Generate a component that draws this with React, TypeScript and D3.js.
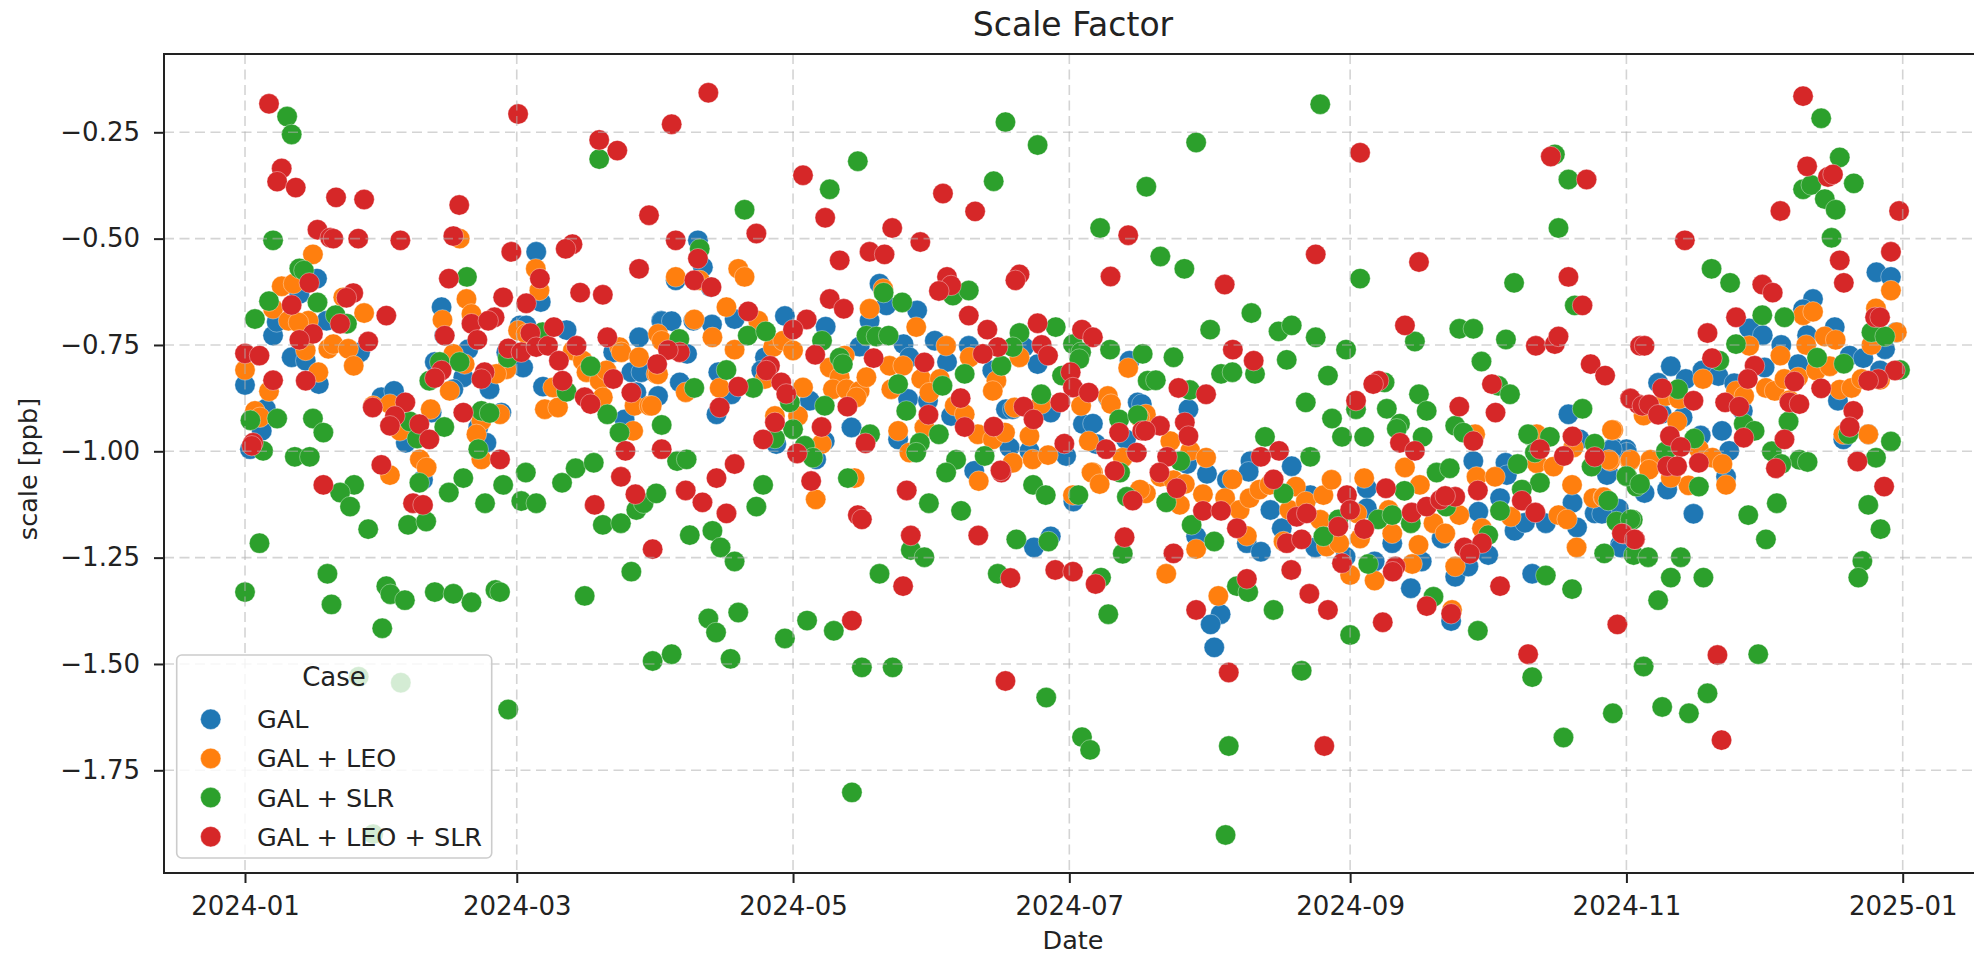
import React, { useEffect, useRef } from "react";
import * as d3 from "d3";

// [day of 2024, scale in ppb]
const gal: [number, number][] = [
  [0,-0.844],[6.2,-0.728],[10.3,-0.779],[13.4,-0.787],[12,-0.63],[15.9,-0.594],[7,-0.696],[18,-0.693],[25.4,-0.767],[16.3,-0.842],
  [1.1,-0.995],[3.7,-0.952],[4.6,-0.9],[43.4,-0.661],[44,-0.728],[49.3,-0.76],[41.9,-0.79],[48.2,-0.826],[46,-0.854],[54,-0.854],
  [64.3,-0.531],[65.3,-0.649],[60.7,-0.704],[62.1,-0.704],[57.7,-0.767],[61.4,-0.803],[71,-0.715],[65.8,-0.848],[81.3,-0.767],[87,-0.732],
  [85.3,-0.814],[87.5,-0.814],[91.9,-0.693],[86.4,-0.861],[91.2,-0.87],[83.8,-0.925],[30.1,-0.873],[32.9,-0.858],[41.2,-0.909],[35.5,-0.98],
  [51.5,-0.944],[53.3,-0.98],[56.6,-0.909],[92,-0.694],[94.2,-0.694],[100,-0.504],[101.1,-0.567],[95.1,-0.598],[102.8,-0.614],[97.6,-0.771],
  [103.1,-0.702],[108.1,-0.689],[99,-0.693],[119.2,-0.682],[128.2,-0.707],[114.8,-0.779],[104.5,-0.814],[96,-0.838],[107.4,-0.866],[104.1,-0.913],
  [114,-0.81],[124.7,-0.881],[140.1,-0.606],[137.9,-0.693],[141.6,-0.657],[148.4,-0.669],[135.7,-0.754],[145.4,-0.748],[152.3,-0.74],[159.8,-0.752],
  [155,-0.79],[146.7,-0.779],[133.9,-0.944],[144.2,-0.972],[146.4,-0.877],[150.8,-0.881],[155.9,-0.917],[165,-0.81],[168,-0.901],[169.5,-0.901],
  [175,-0.795],[177.9,-0.909],[172,-0.755],[185,-0.936],[187.2,-0.935],[195.3,-0.787],[190.5,-0.873],[197.1,-0.885],[194.5,-0.972],[187.9,-0.983],
  [181.3,-1.011],[168.8,-0.991],[173.2,-0.999],[161,-1.046],[117.3,-0.983],[128,-0.976],[126.1,-1.019],[39.3,-1.067],[182.9,-1.118],[177.9,-1.2],
  [174.2,-1.226],[208.3,-0.901],[198,-0.889],[199.9,-0.94],[292.2,-0.913],[271.2,-1.023],[278.3,-1.027],[222,-1.023],[231.1,-1.035],[294.7,-0.972],
  [302.1,-0.991],[305,-0.995],[212.4,-1.053],[208,-1.03],[216.8,-1.067],[221.6,-1.048],[226.4,-1.138],[228.9,-1.181],[210,-1.2],[221.2,-1.216],
  [224.3,-1.236],[236.3,-1.226],[235.2,-1.103],[215.4,-1.383],[213.2,-1.407],[214,-1.461],[257.4,-1.322],[249.4,-1.259],[247.7,-1.087],[247.7,-1.134],
  [253.3,-1.216],[259.8,-1.259],[267.2,-1.295],[266.3,-1.399],[264.2,-1.205],[270.1,-1.271],[274.5,-1.244],[272.3,-1.142],[277.1,-1.11],[280.3,-1.187],
  [282.6,-1.168],[284.2,-1.288],[287.2,-1.169],[294.1,-1.179],[293.1,-1.121],[298,-1.146],[301,-1.052],[303.6,-1.22],[243,-1.248],[278.6,-1.056],
  [314.8,-0.8],[312,-0.839],[318.1,-0.83],[321.8,-0.81],[325.3,-0.823],[317.4,-0.92],[312.8,-0.912],[332.1,-0.711],[335.1,-0.727],[339.2,-0.75],
  [335.5,-0.803],[342.9,-0.795],[346.2,-0.642],[344,-0.666],[344.9,-0.727],[351,-0.708],[354.3,-0.775],[357.3,-0.781],[362.1,-0.76],[360.2,-0.579],
  [363.4,-0.59],[364.5,-0.72],[361,-0.81],[351.7,-0.881],[330.7,-0.905],[328.8,-0.84],[326.1,-0.952],[327.7,-0.999],[321.4,-0.963],[352.9,-0.972],
  [358.4,-0.96],[305.1,-1.003],[301.8,-0.995],[327,-1.06],[319.8,-1.147],[314,-1.09],[309,-1.098],[303.3,-1.135],[299.6,-1.147],[303.7,-1.226],[300.7,-1.056],
];

const galLeo: [number, number][] = [
  [0,-0.809],[2.2,-0.905],[3.3,-0.92],[5.3,-0.859],[8.1,-0.612],[10.7,-0.606],[15,-0.537],[6.2,-0.665],[9.6,-0.693],[14,-0.693],
  [11.8,-0.697],[13.4,-0.763],[16.2,-0.814],[18.4,-0.759],[19.5,-0.748],[22.8,-0.759],[24,-0.799],[26.3,-0.675],[21.7,-0.638],[47.4,-0.5],
  [43.6,-0.691],[46,-0.771],[48.9,-0.642],[50,-0.677],[45.2,-0.858],[48.5,-0.795],[57.7,-0.807],[55.5,-0.818],[56.3,-0.913],[52.2,-0.928],
  [51.1,-0.96],[52.2,-1.019],[28.3,-0.893],[32,-0.889],[34.2,-0.952],[41,-0.901],[38.6,-1.019],[40.1,-1.038],[32,-1.056],[64.2,-0.571],
  [65,-0.622],[60.3,-0.716],[62.1,-0.724],[66.2,-0.901],[69.1,-0.897],[68,-0.85],[72.4,-0.763],[74.6,-0.787],[75.4,-0.814],[78.3,-0.834],
  [79,-0.873],[82.7,-0.755],[83.1,-0.767],[87,-0.779],[79.8,-0.81],[86,-0.893],[89.3,-0.893],[85.7,-0.952],[91.2,-0.724],[90.8,-0.818],
  [92,-0.74],[91.2,-0.819],[89.8,-0.893],[95.1,-0.59],[99.2,-0.69],[103.2,-0.732],[106.3,-0.661],[108.9,-0.571],[110.3,-0.59],[100.4,-0.598],
  [108.1,-0.761],[113.3,-0.693],[104.8,-0.851],[97.3,-0.861],[116.6,-0.755],[118.8,-0.74],[121,-0.763],[114.8,-0.83],[123.2,-0.85],[117,-0.917],
  [122.1,-0.917],[127.3,-0.983],[137.9,-0.665],[140.9,-0.618],[148.2,-0.708],[154.8,-0.752],[132.4,-0.775],[129.1,-0.803],[131.3,-0.826],[129.8,-0.854],
  [132.8,-0.854],[135.7,-0.858],[137.2,-0.826],[135,-0.873],[142.3,-0.799],[145.3,-0.799],[142.7,-0.854],[144.2,-0.952],[149.3,-0.83],[153.4,-0.83],
  [151.1,-0.862],[150,-0.944],[146.7,-1.003],[156.7,-0.893],[158.9,-0.913],[160,-0.779],[165.9,-0.834],[165.1,-0.858],[171,-0.779],[161.8,-0.96],
  [165.1,-0.972],[167.8,-0.956],[169.9,-0.897],[175.8,-0.889],[173.2,-0.964],[169.5,-1.027],[173.9,-1.019],[177.3,-1.009],[184.6,-0.893],[190.5,-0.87],
  [191.2,-0.889],[195,-0.804],[186.3,-0.976],[187.2,-1.05],[198.9,-0.913],[193.8,-1.015],[197.5,-0.92],[126,-1.113],[134.6,-1.063],[162,-1.07],
  [182.8,-1.103],[186.9,-1.05],[188.7,-1.077],[198.9,-1.099],[285.2,-0.96],[302.1,-0.95],[271.6,-0.96],[204.3,-0.976],[208.7,-0.999],[212.2,-1.015],
  [256.1,-1.038],[293.3,-0.991],[301.4,-1.023],[305.8,-1.023],[197.6,-1.09],[202.1,-1.06],[205,-1.068],[207.5,-1.077],[206.4,-1.126],[203.4,-1.288],
  [210,-1.23],[211.5,-1.101],[216.4,-1.11],[218,-1.066],[221.2,-1.199],[214.9,-1.34],[219.6,-1.138],[221.8,-1.11],[224,-1.09],[226.2,-1.079],
  [230.6,-1.138],[232,-1.083],[234.2,-1.118],[238.1,-1.103],[239.9,-1.067],[237.4,-1.161],[229.3,-1.212],[238.8,-1.224],[241.6,-1.216],[245.5,-1.146],
  [246.2,-1.205],[244,-1.291],[249.4,-1.304],[247.1,-1.063],[259.4,-1.079],[252.5,-1.138],[253.3,-1.193],[259.1,-1.22],[257.7,-1.265],[262.4,-1.169],
  [265,-1.193],[268.1,-1.15],[267.2,-1.271],[266.5,-1.373],[271.9,-1.06],[276,-1.06],[273.1,-1.181],[279.5,-1.154],[285.2,-1.028],[288.9,-1.036],
  [293,-1.079],[290,-1.15],[291.9,-1.16],[294,-1.226],[297.7,-1.11],[299.9,-1.108],[301.8,-0.95],[308.8,-0.916],[321.9,-0.83],[316.2,-0.93],
  [313.7,-0.87],[316.6,-0.877],[332.1,-0.752],[339,-0.775],[329.2,-0.858],[331,-0.87],[335.8,-0.851],[337.7,-0.858],[339.9,-0.83],[342.9,-0.826],
  [341,-0.88],[344,-0.68],[346.2,-0.672],[344.7,-0.75],[348.8,-0.73],[351.2,-0.738],[346.9,-0.81],[349.9,-0.8],[352.1,-0.855],[354.7,-0.851],
  [356.9,-0.83],[360.1,-0.664],[359.1,-0.75],[363.4,-0.622],[364.7,-0.72],[361,-0.832],[352.9,-0.96],[358.4,-0.96],[310.3,-1.02],[305.9,-1.02],
  [301.1,-1.02],[321,-0.995],[324,-1.015],[326.2,-1.03],[327,-1.079],[318.7,-1.08],[314.8,-1.062],[310,-1.043],[300,-1.108],
];

const galSlr: [number, number][] = [
  [9.3,-0.213],[10.3,-0.255],[6.2,-0.504],[12,-0.57],[13,-0.575],[5.3,-0.647],[2.2,-0.689],[16,-0.65],[20,-0.68],[22.5,-0.7],
  [1.2,-0.927],[7.1,-0.923],[15,-0.923],[17.3,-0.956],[4,-0.999],[11,-1.013],[14.3,-1.013],[44,-0.943],[43,-0.79],[40.7,-0.834],
  [47.4,-0.79],[49,-0.59],[52.2,-0.905],[54,-0.91],[51.5,-0.995],[62,-1.05],[73,-1.04],[77,-1.027],[78.2,-0.313],[76.3,-0.8],
  [71,-0.86],[65.7,-0.72],[58,-0.78],[80,-0.913],[82.7,-0.956],[92,-0.938],[36.4,-0.93],[38,-0.97],[24.1,-1.079],[21,-1.097],
  [23.2,-1.13],[27.2,-1.183],[38.5,-1.074],[36,-1.173],[40,-1.165],[45,-1.097],[48.2,-1.063],[53,-1.122],[57,-1.079],[61,-1.117],
  [64.3,-1.122],[70,-1.074],[79,-1.173],[83,-1.169],[86.4,-1.138],[88,-1.122],[90.8,-1.099],[3.2,-1.216],[0,-1.331],[18.2,-1.288],
  [19.1,-1.36],[31.2,-1.317],[32.1,-1.336],[35.3,-1.35],[41.9,-1.331],[46,-1.335],[50,-1.355],[55.3,-1.326],[56.3,-1.331],[75,-1.34],
  [85.3,-1.283],[30.3,-1.416],[90,-1.493],[25.1,-1.53],[34.4,-1.544],[58.1,-1.607],[28.3,-1.9],[110.3,-0.432],[100.4,-0.524],[95.9,-0.736],
  [111,-0.728],[115,-0.718],[106.3,-0.809],[99.2,-0.851],[112.2,-0.851],[120.3,-0.885],[128,-0.893],[121,-0.948],[117,-0.97],[123.6,-0.987],
  [125.4,-1.015],[95.4,-1.023],[97.5,-1.019],[127.4,-0.74],[129.1,-0.384],[135.3,-0.318],[131.3,-0.78],[132,-0.795],[137.2,-0.728],[139.4,-0.73],
  [142.1,-0.728],[141,-0.627],[145.1,-0.65],[144.2,-0.842],[146,-0.905],[138,-0.96],[149,-0.98],[148.2,-1.003],[153.2,-0.96],[154,-0.846],
  [158.9,-0.818],[156.3,-0.634],[159.8,-0.622],[165.3,-0.365],[167.9,-0.226],[175,-0.28],[171,-0.722],[169.5,-0.755],[167,-0.799],[179,-0.708],
  [182.8,-0.748],[184.6,-0.767],[184.2,-0.783],[180.4,-0.822],[188.8,-0.475],[199,-0.378],[191,-0.761],[198.2,-0.771],[199.3,-0.834],[175.8,-0.866],
  [193,-0.925],[197.1,-0.915],[157,-1.02],[163.3,-1.011],[154.8,-1.05],[114.4,-1.079],[112.9,-1.13],[98.2,-1.197],[103.2,-1.187],[105,-1.226],
  [108.1,-1.259],[102.3,-1.393],[104,-1.426],[108.9,-1.379],[94.2,-1.477],[107.2,-1.488],[119.2,-1.44],[124.1,-1.398],[130,-1.422],[136.2,-1.508],
  [143,-1.508],[134,-1.802],[133.1,-1.063],[140.1,-1.288],[147,-1.232],[150,-1.249],[151,-1.122],[158.1,-1.14],[166.2,-1.288],[170.3,-1.207],
  [177.4,-1.212],[174,-1.079],[176.8,-1.103],[184,-1.103],[176.9,-1.579],[184.8,-1.672],[186.6,-1.702],[189,-1.297],[190.6,-1.383],[193.8,-1.241],
  [194.7,-1.107],[193.2,-1.05],[237.4,-0.184],[210,-0.274],[202.1,-0.542],[207.4,-0.571],[213.1,-0.714],[222.2,-0.675],[228.2,-0.718],[231.1,-0.704],
  [236.4,-0.732],[243.1,-0.761],[246.2,-0.594],[205,-0.779],[201.1,-0.833],[208.6,-0.856],[230,-0.785],[215.5,-0.818],[218,-0.814],[223,-0.818],
  [239.1,-0.822],[234.2,-0.885],[240,-0.923],[242.2,-0.966],[247.1,-0.966],[245.3,-0.901],[251.6,-0.838],[252.1,-0.9],[255,-0.935],[254.3,-0.947],
  [258.3,-0.742],[268.1,-0.712],[271.2,-0.712],[278.4,-0.737],[273,-0.789],[259.2,-0.866],[260.9,-0.905],[260,-0.966],[267.2,-0.94],[269,-0.956],
  [276.7,-0.846],[279.3,-0.866],[280.2,-0.604],[290,-0.475],[289.2,-0.302],[292.2,-0.361],[293.6,-0.657],[283.3,-0.96],[288.1,-0.966],[284.8,-1.003],
  [298,-0.982],[295.3,-0.9],[225.2,-0.966],[235.2,-1.013],[206.5,-1.023],[281,-1.03],[263.1,-1.05],[266,-1.04],[285.9,-1.074],[297.3,-1.036],
  [305.2,-1.06],[307.2,-1.083],[229.3,-1.099],[203.4,-1.12],[209,-1.173],[214,-1.212],[219,-1.317],[221.5,-1.331],[227.1,-1.373],[233.3,-1.516],
  [217.2,-1.693],[216.5,-1.902],[238.1,-1.2],[241.4,-1.16],[248,-1.265],[244,-1.432],[250.2,-1.16],[253.3,-1.15],[256,-1.093],[257.4,-1.169],
  [265.2,-1.13],[262.4,-1.342],[272.2,-1.422],[274.5,-1.197],[277.1,-1.14],[281.9,-1.09],[287.2,-1.292],[293,-1.324],[300.1,-1.24],[301,-1.116],
  [302.8,-1.165],[306.4,-1.161],[284.2,-1.531],[302,-1.616],[291.1,-1.673],[348,-0.217],[352.1,-0.309],[355.2,-0.37],[344,-0.384],
  [345.8,-0.374],[348.8,-0.407],[351.2,-0.432],[350.3,-0.498],[323.8,-0.571],[327.9,-0.604],[335,-0.68],[339.9,-0.685],[329.2,-0.748],[325.5,-0.787],
  [316.4,-0.854],[347.1,-0.78],[353,-0.794],[359.1,-0.72],[362.1,-0.73],[365.4,-0.809],[363.4,-0.977],[360.1,-1.015],[340.8,-0.93],[330.9,-0.935],
  [333.3,-0.952],[320,-0.97],[354,-0.96],[337.1,-1],[343.2,-1.02],[345,-1.025],[339.2,-1.03],[313.7,-1],[305,-1.058],[308,-1.077],
  [321,-1.083],[338.2,-1.122],[331.9,-1.15],[335.8,-1.207],[358.4,-1.126],[361.1,-1.183],[357.1,-1.258],[356.2,-1.297],[305.9,-1.16],[306.6,-1.244],
  [309.8,-1.249],[317,-1.249],[314.8,-1.297],[322,-1.297],[312,-1.35],[308.8,-1.506],[334.1,-1.477],[322.9,-1.569],[312.9,-1.601],[318.8,-1.616],
];

const galLeoSlr: [number, number][] = [
  [5.3,-0.183],[60.3,-0.207],[8.1,-0.335],[7.1,-0.366],[11.2,-0.38],[20.1,-0.403],[26.3,-0.408],[16,-0.479],[18.8,-0.498],[19.5,-0.5],
  [25,-0.5],[34.3,-0.504],[47.3,-0.421],[46,-0.494],[58.8,-0.531],[78.2,-0.268],[82.2,-0.293],[89.2,-0.445],[72.3,-0.513],[70.8,-0.524],
  [45,-0.594],[57,-0.638],[62.1,-0.652],[65.1,-0.594],[74,-0.627],[79,-0.632],[87,-0.571],[14.2,-0.604],[10.3,-0.656],[23.9,-0.628],
  [22.4,-0.639],[31.2,-0.681],[21,-0.7],[15,-0.724],[12,-0.738],[27.2,-0.742],[0,-0.77],[3.2,-0.775],[44.1,-0.728],[50,-0.7],
  [55.1,-0.685],[53.7,-0.693],[51.3,-0.738],[58.1,-0.758],[61,-0.767],[63,-0.722],[64.3,-0.755],[66.9,-0.752],[68.2,-0.708],[73.2,-0.752],
  [80,-0.732],[69.3,-0.787],[70.1,-0.834],[81.3,-0.83],[75,-0.873],[76.3,-0.889],[85.3,-0.862],[6.2,-0.833],[13.4,-0.834],[43.4,-0.81],
  [41.9,-0.828],[52.9,-0.814],[52.2,-0.83],[28.2,-0.897],[35.4,-0.885],[33.1,-0.917],[32,-0.94],[38.5,-0.936],[40.7,-0.972],[48.2,-0.909],
  [56.3,-1.019],[1.8,-0.98],[1.5,-0.987],[84,-0.999],[17.3,-1.079],[30.1,-1.032],[37.1,-1.122],[39.3,-1.126],[83,-1.06],[86.2,-1.101],
  [77.2,-1.126],[90,-1.23],[102.3,-0.157],[94.2,-0.231],[123.2,-0.351],[128.1,-0.451],[112.9,-0.488],[95.1,-0.504],[100,-0.547],[142.9,-0.475],
  [131.3,-0.551],[137.9,-0.531],[141.2,-0.537],[149.1,-0.508],[154.1,-0.394],[161.2,-0.436],[195,-0.492],[99.2,-0.598],[103,-0.614],[129.1,-0.642],
  [132.2,-0.665],[111.1,-0.671],[155,-0.59],[155.9,-0.61],[153.2,-0.623],[171,-0.584],[170.1,-0.598],[191.1,-0.589],[159.8,-0.681],[163.9,-0.714],
  [175,-0.699],[184.8,-0.714],[187.2,-0.732],[124,-0.69],[121,-0.714],[166.2,-0.755],[162.9,-0.771],[175.9,-0.75],[177.3,-0.775],[96,-0.767],
  [93.4,-0.762],[91,-0.795],[125.9,-0.773],[138.8,-0.781],[150,-0.791],[115.9,-0.799],[115.1,-0.81],[108.9,-0.848],[118.4,-0.838],[119.5,-0.865],
  [182.3,-0.814],[182.8,-0.85],[186.3,-0.862],[158,-0.875],[133,-0.895],[104.8,-0.897],[150.9,-0.914],[171.9,-0.895],[174.1,-0.925],[180,-0.885],
  [117,-0.932],[127.3,-0.943],[158.9,-0.943],[165.3,-0.942],[193,-0.956],[198.1,-0.952],[114.4,-0.972],[137,-0.981],[92,-0.995],[121.9,-1.005],
  [180.9,-0.982],[190.1,-0.995],[196.9,-1.003],[108.1,-1.03],[167,-1.05],[192,-1.046],[104.1,-1.063],[97.3,-1.092],[101,-1.12],[106.3,-1.146],
  [125,-1.07],[135.3,-1.15],[136.2,-1.16],[146.1,-1.092],[147,-1.198],[145.3,-1.317],[166.8,-1.045],[161.9,-1.198],[169,-1.298],[178.9,-1.279],
  [182.8,-1.283],[187.8,-1.312],[194.2,-1.202],[196,-1.116],[134,-1.398],[167.9,-1.54],[246.2,-0.298],[288.3,-0.307],[296.2,-0.361],[236.4,-0.537],
  [259.2,-0.555],[216.3,-0.608],[292.2,-0.59],[295.3,-0.657],[256.1,-0.704],[218.1,-0.761],[222.7,-0.787],[285,-0.752],[289.2,-0.748],[290,-0.73],
  [297.1,-0.795],[300.3,-0.822],[308,-0.752],[250.3,-0.834],[249.1,-0.842],[206.1,-0.851],[212.2,-0.866],[275.3,-0.842],[245.3,-0.881],[268.1,-0.895],
  [276.1,-0.909],[305.8,-0.876],[307.6,-0.889],[207.5,-0.932],[208.3,-0.964],[255,-0.98],[258.3,-0.999],[271.2,-0.976],[293.1,-0.965],[285.9,-0.995],
  [291.2,-1.011],[298,-1.013],[228.3,-0.999],[224.3,-1.013],[202,-0.94],[198.8,-0.952],[203.6,-1.013],[201.9,-1.05],[205.7,-1.087],[205,-1.24],
  [211.5,-1.14],[215.5,-1.14],[219,-1.181],[221.2,-1.3],[227.1,-1.066],[210,-1.373],[217.2,-1.52],[231,-1.279],[235,-1.335],[239.1,-1.373],
  [232.2,-1.154],[234.4,-1.146],[230,-1.216],[233.3,-1.207],[243.3,-1.103],[244,-1.138],[241.4,-1.177],[247.1,-1.183],[242.2,-1.263],[251.9,-1.087],
  [254,-1.271],[253.4,-1.283],[251.2,-1.402],[260.9,-1.364],[266.3,-1.382],[257.6,-1.144],[260.9,-1.13],[263.9,-1.114],[267.2,-1.107],[265,-1.105],
  [272.2,-1.092],[269.2,-1.226],[273.1,-1.216],[270.4,-1.241],[277.1,-1.317],[281.9,-1.116],[284.9,-1.144],[283.3,-1.477],[238.3,-1.693],[303,-1.407],
  [304.3,-1.194],[306.9,-1.207],[344,-0.165],[344.9,-0.33],[349.5,-0.355],[350.6,-0.349],[339,-0.435],[365.2,-0.435],[363.4,-0.531],[352.1,-0.551],
  [353,-0.604],[317.9,-0.504],[335,-0.608],[337.3,-0.627],[329.2,-0.685],[322.9,-0.722],[309,-0.752],[323.9,-0.781],[333.3,-0.799],[331.8,-0.83],
  [359.9,-0.685],[361,-0.685],[364.3,-0.81],[360.6,-0.83],[358.4,-0.834],[342.1,-0.836],[348,-0.852],[312.9,-0.852],[319.8,-0.881],[305.9,-0.876],
  [308.5,-0.893],[310,-0.89],[312,-0.914],[326.8,-0.885],[329.9,-0.895],[341,-0.885],[343.2,-0.889],[355.1,-0.905],[354.3,-0.943],[330.9,-0.968],
  [339.9,-0.972],[314.6,-0.964],[317,-0.99],[356,-1.024],[338,-1.04],[314,-1.035],[316.2,-1.035],[321,-1.027],[361.9,-1.083],[325.1,-1.479],
  [326,-1.679],[304,-1.193],[306.8,-1.207],
];

const caseNames = ["GAL", "GAL + LEO", "GAL + SLR", "GAL + LEO + SLR"];
const caseColors = ["#1f77b4", "#ff7f0e", "#2ca02c", "#d62728"];
const caseData = [gal, galLeo, galSlr, galLeoSlr];

const xTicks = ["2024-01", "2024-03", "2024-05", "2024-07", "2024-09", "2024-11", "2025-01"];
const yTicks = [-0.25, -0.5, -0.75, -1.0, -1.25, -1.5, -1.75];

const w = 1974;
const h = 955;
const box = { left: 164, top: 54, bottom: 873, right: 1982 };
const font = "'DejaVu Sans', sans-serif";
const fontSize = 25.5;
const markerR = 10.2;

export default function App() {
  const ref = useRef<SVGSVGElement>(null);

  useEffect(() => {
    const svg = d3.select(ref.current);
    svg.selectAll("*").remove();

    const parseMonth = d3.utcParse("%Y-%m");
    const start = parseMonth("2024-01") as Date;

    const x = d3.scaleUtc()
      .domain([start, parseMonth("2025-01") as Date])
      .range([245, 1902.7]);
    const y = d3.scaleLinear().domain([-0.25, -1.75]).range([132.3, 770.3]);
    const dayX = (d: number) => x(new Date(start.getTime() + d * 864e5));

    svg.append("rect").attr("width", w).attr("height", h).attr("fill", "white");

    // points
    caseData.forEach((series, i) => {
      svg.append("g")
        .selectAll("circle")
        .data(series)
        .enter()
        .append("circle")
        .attr("cx", d => dayX(d[0]))
        .attr("cy", d => y(d[1]))
        .attr("r", markerR)
        .attr("fill", caseColors[i])
        .attr("stroke", "white")
        .attr("stroke-opacity", 0.6)
        .attr("stroke-width", 0.6);
    });

    // grid sits above the points
    const grid = svg.append("g")
      .attr("stroke", "#b0b0b0")
      .attr("stroke-opacity", 0.55)
      .attr("stroke-width", 1.6)
      .attr("stroke-dasharray", "10,5.5");
    xTicks.forEach(t => {
      const px = x(parseMonth(t) as Date);
      grid.append("line").attr("x1", px).attr("x2", px).attr("y1", box.top).attr("y2", box.bottom);
    });
    yTicks.forEach(t => {
      grid.append("line").attr("x1", box.left).attr("x2", box.right).attr("y1", y(t)).attr("y2", y(t));
    });

    // axes
    const xAxis = d3.axisBottom(x)
      .tickValues(xTicks.map(t => parseMonth(t) as Date))
      .tickFormat(d3.utcFormat("%Y-%m") as any)
      .tickSizeOuter(0)
      .tickSize(10)
      .tickPadding(14);
    const yAxis = d3.axisLeft(y)
      .tickValues(yTicks)
      .tickFormat(d3.format(".2f") as any)
      .tickSizeOuter(0)
      .tickSize(10)
      .tickPadding(14);

    const gx = svg.append("g").attr("transform", `translate(0,${box.bottom})`).call(xAxis);
    const gy = svg.append("g").attr("transform", `translate(${box.left},0)`).call(yAxis);
    [gx, gy].forEach(g => {
      g.selectAll(".domain").remove();
      g.selectAll("line").attr("stroke", "#222").attr("stroke-width", 2);
      g.selectAll("text")
        .attr("font-family", font)
        .attr("font-size", 26)
        .attr("fill", "#222");
    });

    svg.append("rect")
      .attr("x", box.left)
      .attr("y", box.top)
      .attr("width", box.right - box.left)
      .attr("height", box.bottom - box.top)
      .attr("fill", "none")
      .attr("stroke", "#222")
      .attr("stroke-width", 2);

    // title and labels
    const label = (text: string, px: number, py: number, size: number, rotate = 0) =>
      svg.append("text")
        .attr("transform", `translate(${px},${py}) rotate(${rotate})`)
        .attr("text-anchor", "middle")
        .attr("font-family", font)
        .attr("font-size", size)
        .attr("fill", "#222")
        .text(text);
    label("Scale Factor", 1073, 36, 33);
    label("Date", 1073, 949, fontSize);
    label("scale [ppb]", 37, 469, fontSize, -90);

    // legend
    svg.append("rect")
      .attr("x", 176.7)
      .attr("y", 655)
      .attr("width", 315)
      .attr("height", 203)
      .attr("rx", 5)
      .attr("fill", "white")
      .attr("fill-opacity", 0.8)
      .attr("stroke", "#ccc")
      .attr("stroke-width", 1.6);
    label("Case", 334, 686, 26);
    const legendY = d3.scalePoint<string>().domain(caseNames).range([719.3, 836.7]);
    caseNames.forEach((name, i) => {
      svg.append("circle")
        .attr("cx", 210.7)
        .attr("cy", legendY(name) as number)
        .attr("r", markerR)
        .attr("fill", caseColors[i])
        .attr("stroke", "white")
        .attr("stroke-opacity", 0.6)
        .attr("stroke-width", 0.6);
      svg.append("text")
        .attr("x", 257)
        .attr("y", (legendY(name) as number) + 9)
        .attr("font-family", font)
        .attr("font-size", fontSize)
        .attr("fill", "#222")
        .text(name);
    });
  }, []);

  return (
    <svg
      ref={ref}
      width={w}
      height={h}
      style={{ position: "absolute", left: 0, top: 0, display: "block" }}
    />
  );
}
